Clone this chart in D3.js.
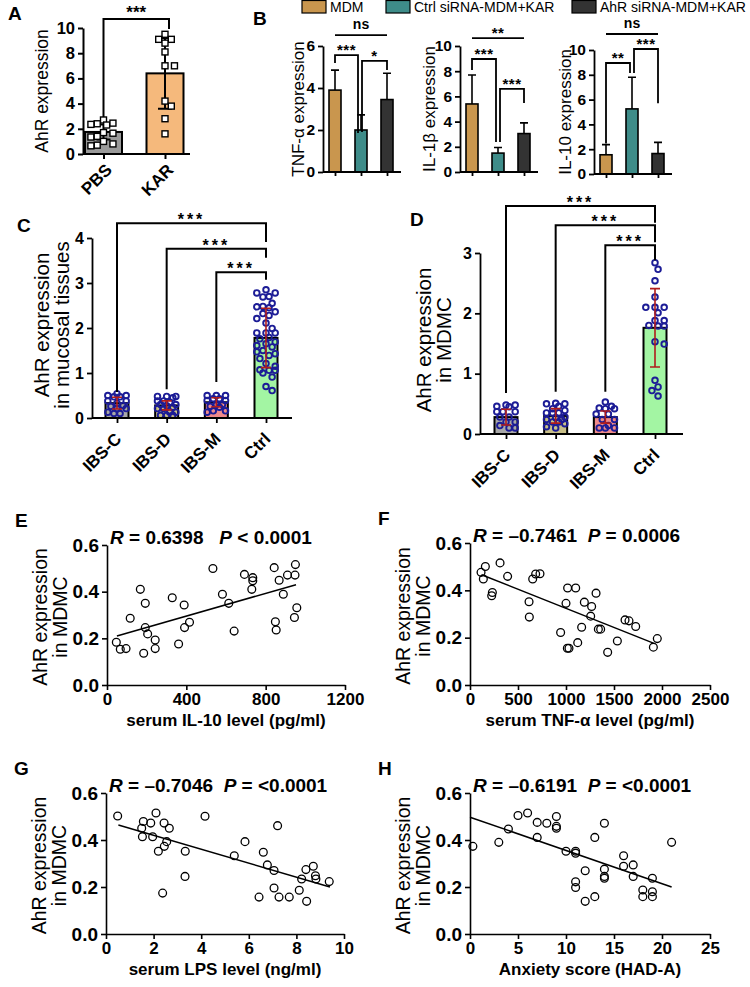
<!DOCTYPE html>
<html><head><meta charset="utf-8">
<script src="https://cdn.jsdelivr.net/npm/d3@7"></script>
<style>
body{margin:0;background:#fff;}
svg{display:block;font-family:"Liberation Sans",Arial,sans-serif;}
text{white-space:pre;}
</style></head><body>
<svg id="c" width="750" height="987"></svg>
<script>
// ================= DATA =================
// Panel A
const aGroups = ["PBS", "KAR"];
const aMeans = [1.75, 6.4];
const aSD = [0.6, 2.8];
const aPBS = [2.7, 2.4, 2.3, 2.35, 2.45, 1.7, 1.65, 1.35, 1.4, 1.0, 0.8, 0.7, 0.65];
const aKAR = [9.5, 9.1, 9.1, 8.8, 8.1, 7.0, 7.0, 4.2, 3.8, 2.8, 1.6];
const aTicks = [0, 2, 4, 6, 8, 10];

// Panel B
const bGroups = ["MDM", "Ctrl siRNA-MDM+KAR", "AhR siRNA-MDM+KAR"];
const tnfMean = [3.9, 2.0, 3.45];
const tnfErr = [0.95, 0.72, 1.25];
const il1bMean = [5.4, 1.5, 3.05];
const il1bErr = [2.3, 0.45, 0.85];
const il10Mean = [1.55, 5.25, 1.65];
const il10Err = [0.82, 2.55, 0.9];

// Panel C
const cdGroups = ["IBS-C", "IBS-D", "IBS-M", "Ctrl"];
const cMeans = [0.33, 0.28, 0.35, 1.78];
const cSD = [0.13, 0.1, 0.1, 0.66];
const cIBSC = [0.5, 0.54, 0.5, 0.38, 0.38, 0.28, 0.26, 0.21, 0.21, 0.1, 0.1, 0.13, 0.33, 0.47, 0.47];
const cIBSD = [0.48, 0.48, 0.48, 0.38, 0.38, 0.3, 0.3, 0.24, 0.21, 0.21, 0.13, 0.13, 0.06, 0.06, 0.06, 0.45, 0.35, 0.27];
const cIBSM = [0.5, 0.5, 0.5, 0.39, 0.39, 0.26, 0.24, 0.16, 0.13, 0.16, 0.3, 0.3, 0.43, 0.43];
const cCtrl = [2.78, 2.78, 2.85, 2.70, 2.69, 2.55, 2.48, 2.45, 2.47, 2.36, 2.32, 2.28, 2.21, 2.11, 1.99, 1.89, 1.89, 1.89, 1.79,
  1.76, 1.69, 1.65, 1.61, 1.58, 1.5, 1.47, 1.43, 1.39, 1.32, 1.21, 1.15, 1.06, 1.06, 1.07, 1.0, 0.91, 0.7, 0.61];
const cTicks = [0, 1, 2, 3, 4];

// Panel D
const dMeans = [0.28, 0.3, 0.28, 1.76];
const dSD = [0.13, 0.12, 0.1, 0.65];
const dIBSC = [0.48, 0.46, 0.45, 0.48, 0.37, 0.37, 0.37, 0.28, 0.28, 0.2, 0.2, 0.14, 0.1, 0.1];
const dIBSD = [0.5, 0.51, 0.5, 0.46, 0.39, 0.42, 0.35, 0.35, 0.35, 0.28, 0.27, 0.2, 0.2, 0.17, 0.12, 0.1, 0.24, 0.24];
const dIBSM = [0.53, 0.42, 0.42, 0.43, 0.46, 0.33, 0.33, 0.24, 0.24, 0.14, 0.1, 0.1, 0.1];
const dCtrl = [2.84, 2.73, 2.54, 2.27, 2.1, 2.1, 2.1, 2.01, 1.88, 1.88, 1.79, 1.79, 1.8, 1.53, 1.49, 0.89, 0.78, 0.63, 0.72];
const dTicks = [0, 1, 2, 3];

// Panels E-H (scatter)
const eX = [47, 67, 96, 117, 168, 185, 193, 193, 205, 243, 243, 329, 361, 389, 391, 416, 534, 582, 614, 641, 693, 730, 735, 735, 843, 849, 853, 868, 889, 910, 945, 948, 950, 957];
const eY = [0.183, 0.153, 0.156, 0.286, 0.41, 0.136, 0.35, 0.246, 0.219, 0.193, 0.156, 0.374, 0.176, 0.343, 0.246, 0.269, 0.499, 0.389, 0.35, 0.231, 0.474, 0.41, 0.46, 0.447, 0.503, 0.271, 0.236, 0.449, 0.389, 0.471, 0.289, 0.471, 0.516, 0.331];
const eLine = [[50, 0.21], [953, 0.43]];
const eXTicks = [0, 400, 800, 1200];

const fX = [115, 139, 160, 313, 226, 233, 392, 615, 618, 653, 684, 729, 944, 1000, 1014, 1031, 1017, 1101, 1122, 1163, 1191, 1267, 1257, 1313, 1337, 1361, 1434, 1535, 1615, 1656, 1726, 1910, 1951];
const fY = [0.476, 0.448, 0.501, 0.516, 0.377, 0.391, 0.459, 0.352, 0.287, 0.448, 0.469, 0.47, 0.222, 0.345, 0.155, 0.155, 0.41, 0.41, 0.179, 0.244, 0.35, 0.332, 0.291, 0.388, 0.236, 0.236, 0.138, 0.186, 0.275, 0.271, 0.247, 0.16, 0.196];
const fLine = [[120, 0.466], [1910, 0.177]];
const fXTicks = [0, 500, 1000, 1500, 2000, 2500];

const gX = [0.49, 1.5, 1.53, 1.57, 1.88, 1.96, 2.1, 2.2, 2.38, 2.44, 2.45, 2.55, 2.66, 3.33, 3.32, 4.16, 5.39, 5.84, 6.43, 6.61, 6.78, 7.06, 7.06, 7.21, 7.27, 7.7, 8.12, 8.22, 8.4, 8.43, 8.71, 8.8, 8.82, 9.38];
const gY = [0.502, 0.45, 0.414, 0.479, 0.472, 0.414, 0.515, 0.352, 0.174, 0.472, 0.373, 0.393, 0.45, 0.352, 0.245, 0.501, 0.333, 0.393, 0.157, 0.348, 0.294, 0.196, 0.27, 0.461, 0.157, 0.157, 0.186, 0.234, 0.274, 0.139, 0.288, 0.248, 0.234, 0.223];
const gLine = [[0.52, 0.464], [9.41, 0.2]];
const gXTicks = [0, 2, 4, 6, 8, 10];

const hX = [0.3, 3, 4, 5, 6, 7, 7, 8, 9, 9, 9, 10, 11, 11, 11, 11, 12, 12, 13, 13, 14, 14, 14, 14, 16, 16, 17, 17, 18, 18, 19, 19, 19, 21];
const hY = [0.373, 0.39, 0.447, 0.504, 0.515, 0.475, 0.411, 0.471, 0.5, 0.458, 0.45, 0.352, 0.352, 0.344, 0.222, 0.198, 0.269, 0.139, 0.159, 0.411, 0.471, 0.276, 0.245, 0.237, 0.333, 0.288, 0.294, 0.245, 0.187, 0.159, 0.18, 0.159, 0.237, 0.39];
const hLine = [[0, 0.497], [21, 0.2]];
const hXTicks = [0, 5, 10, 15, 20, 25];
const scatterYTicks = [0, 0.2, 0.4, 0.6];

// ================= DRAWING =================
const svg = d3.select("#c");
const FONT_BOLD = 700;
const intFmt = d3.format("d");

function letter(x, y, t) {
  svg.append("text").attr("x", x).attr("y", y).attr("font-size", 19).attr("font-weight", FONT_BOLD).text(t);
}
function rotLabel(cx, cy, lines, fs, gap) {
  const n = lines.length;
  lines.forEach((l, i) => {
    const x = cx + (i - (n - 1) / 2) * gap;
    svg.append("text").attr("transform", `translate(${x},${cy}) rotate(-90)`)
      .attr("text-anchor", "middle").attr("dy", "0.35em").attr("font-size", fs).text(l);
  });
}
function styleAxis(g, fs, sw) {
  g.selectAll("path,line").attr("stroke", "#000").attr("stroke-width", sw);
  g.selectAll("text").attr("font-size", fs).attr("font-weight", FONT_BOLD).attr("fill", "#000")
    .attr("font-family", '"Liberation Sans",Arial,sans-serif');
}
function slantLabels(xa, dx, dy) {
  xa.selectAll("text").attr("x", 0).attr("y", 0).attr("dy", 0).attr("text-anchor", "end")
    .attr("transform", `translate(${dx},${dy}) rotate(-45)`);
}
function swarm(values, yScale, r, maxOff) {
  const idx = values.map((v, i) => i).sort((a, b) => values[b] - values[a]);
  const placed = [], off = new Array(values.length).fill(0);
  const step = r * 0.9;
  idx.forEach(i => {
    const py = yScale(values[i]);
    const cands = [0];
    for (let k = 1; k * step <= maxOff; k++) cands.push(k * step, -k * step);
    let best = 0, bestMin = -Infinity;
    for (const c of cands) {
      let minD = Infinity;
      for (const p of placed) { const d = Math.hypot(p[0] - c, p[1] - py); if (d < minD) minD = d; }
      if (minD >= 2 * r + 0.3) { best = c; bestMin = Infinity; break; }
      if (minD > bestMin) { bestMin = minD; best = c; }
    }
    off[i] = best; placed.push([best, py]);
  });
  return off;
}
function bracket(x1, y1, x2, y2, ytop, sw) {
  svg.append("path").attr("d", `M${x1},${y1}V${ytop}H${x2}V${y2}`)
    .attr("fill", "none").attr("stroke", "#000").attr("stroke-width", sw);
}
function stars(x, ycenter, t, fs, ls) {
  svg.append("text").attr("x", x).attr("y", ycenter + fs * 0.55).attr("text-anchor", "middle")
    .attr("font-size", fs).attr("font-weight", FONT_BOLD).attr("letter-spacing", ls || 0).text(t);
}

// ---------- Panel A ----------
(function () {
  const y = d3.scaleLinear().domain([0, 10]).range([154, 28]);
  const x = d3.scalePoint().domain(aGroups).range([103.5, 165]);
  const bw = 37, axX0 = 83, axX1 = 190;
  const colors = ["#9a9a9a", "#f5b97c"];
  aGroups.forEach((g, i) => {
    svg.append("rect").attr("x", x(g) - bw / 2).attr("y", y(aMeans[i])).attr("width", bw)
      .attr("height", y(0) - y(aMeans[i])).attr("fill", colors[i]).attr("stroke", "#000").attr("stroke-width", 2);
  });
  aGroups.forEach((g, i) => {
    const cx = x(g), hi = y(aMeans[i] + aSD[i]), lo = y(aMeans[i] - aSD[i]);
    svg.append("path").attr("d", `M${cx},${hi}V${lo}M${cx - 7},${hi}H${cx + 7}M${cx - 7},${lo}H${cx + 7}`)
      .attr("stroke", "#000").attr("stroke-width", 2).attr("fill", "none");
  });
  const r = 3;
  [aPBS, aKAR].forEach((vals, i) => {
    const off = swarm(vals, y, r + 0.5, 13);
    svg.append("g").selectAll("rect").data(vals).join("rect")
      .attr("x", (d, j) => x(aGroups[i]) + off[j] - r).attr("y", d => y(d) - r)
      .attr("width", 2 * r).attr("height", 2 * r).attr("fill", "#fff").attr("stroke", "#000").attr("stroke-width", 1.4);
  });
  const ya = svg.append("g").attr("transform", `translate(${axX0},0)`)
    .call(d3.axisLeft(y).tickValues(aTicks).tickFormat(intFmt).tickSize(5).tickSizeOuter(0));
  styleAxis(ya, 16.5, 2);
  const xa = svg.append("g").attr("transform", `translate(0,${y(0)})`)
    .call(d3.axisBottom(x).tickSize(5).tickSizeOuter(0));
  xa.select(".domain").attr("d", `M${axX0},0H${axX1}`);
  styleAxis(xa, 17, 2);
  slantLabels(xa, 9, 17);
  rotLabel(42, 91, ["AhR expression"], 17.5, 0);
  bracket(x("PBS"), 117, x("KAR") + 4, 29, 19, 2);
  stars((x("PBS") + x("KAR")) / 2 + 2, 9, "***", 17, 0);
  letter(8, 20, "A");
})();

// ---------- Panel B ----------
const bColors = ["#c9964e", "#3e8c89", "#333333"];
(function () {
  const lx = [302, 386, 572];
  bGroups.forEach((g, i) => {
    svg.append("rect").attr("x", lx[i]).attr("y", 0.5).attr("width", 24).attr("height", 12.5)
      .attr("fill", bColors[i]).attr("stroke", "#000").attr("stroke-width", 1.2);
    svg.append("text").attr("x", lx[i] + 28).attr("y", 12).attr("font-size", 14).text(g);
  });
  letter(253, 25, "B");

  function sub(cfg) {
    const y = d3.scaleLinear().domain([0, cfg.max]).range([cfg.y0, cfg.y1]);
    const x = d3.scalePoint().domain(bGroups).range([cfg.ax + 12, cfg.ax + 64]);
    const bw = 12;
    bGroups.forEach((g, i) => {
      const cx = x(g), top = y(cfg.mean[i]), eh = y(cfg.mean[i] + cfg.err[i]);
      svg.append("path").attr("d", `M${cx},${top}V${eh}M${cx - 4},${eh}H${cx + 4}`)
        .attr("stroke", "#000").attr("stroke-width", 1.6).attr("fill", "none");
      svg.append("rect").attr("x", cx - bw / 2).attr("y", top).attr("width", bw).attr("height", y(0) - top)
        .attr("fill", bColors[i]).attr("stroke", "#000").attr("stroke-width", 1.6);
    });
    const ya = svg.append("g").attr("transform", `translate(${cfg.ax},0)`)
      .call(d3.axisLeft(y).tickValues(cfg.ticks).tickFormat(intFmt).tickSize(5).tickSizeOuter(0));
    styleAxis(ya, 15.5, 1.8);
    const xa = svg.append("g").attr("transform", `translate(0,${y(0)})`)
      .call(d3.axisBottom(x).tickSize(4).tickSizeOuter(0).tickFormat(""));
    xa.select(".domain").attr("d", `M${cfg.ax},0H${cfg.ax + 78}`);
    styleAxis(xa, 10, 1.8);
    rotLabel(cfg.lx, (cfg.y0 + cfg.y1) / 2, [cfg.label], 17, 0);
    cfg.sig.forEach(s => {
      const x1 = x(bGroups[s.from]) + (s.dx1 || 0), x2 = x(bGroups[s.to]) + (s.dx2 || 0);
      if (s.line) {
        svg.append("line").attr("x1", x1).attr("x2", x2).attr("y1", y(s.level)).attr("y2", y(s.level))
          .attr("stroke", "#000").attr("stroke-width", 1.8);
      } else {
        bracket(x1, y(s.e1), x2, y(s.e2), y(s.level), 1.8);
      }
      if (s.label === "ns") {
        svg.append("text").attr("x", (x1 + x2) / 2).attr("y", y(s.level) - 6).attr("text-anchor", "middle")
          .attr("font-size", 14).attr("font-weight", FONT_BOLD).text("ns");
      } else {
        stars((x1 + x2) / 2, y(s.level) - 8, s.label, 15, 0.5);
      }
    });
  }
  sub({ ax: 323, lx: 298, y0: 172, y1: 46, max: 6, ticks: [0, 2, 4, 6], mean: tnfMean, err: tnfErr, label: "TNF-α expression",
    sig: [{ from: 0, to: 2, level: 6.52, line: true, label: "ns" },
      { from: 0, to: 1, dx2: -3, level: 5.57, e1: 5.19, e2: 1.86, label: "***" },
      { from: 1, to: 2, dx1: 1, level: 5.29, e1: 1.9, e2: 4.86, label: "*" }] });
  sub({ ax: 460, lx: 429, y0: 172, y1: 46, max: 10, ticks: [0, 2, 4, 6, 8, 10], mean: il1bMean, err: il1bErr, label: "IL-1β expression",
    sig: [{ from: 0, to: 2, level: 10.63, line: true, label: "**" },
      { from: 0, to: 1, dx2: -2, level: 8.97, e1: 8.1, e2: 2.38, label: "***" },
      { from: 1, to: 2, dx1: 2, level: 6.59, e1: 2.38, e2: 5.48, label: "***" }] });
  sub({ ax: 594, lx: 565, y0: 174, y1: 50, max: 10, ticks: [0, 2, 4, 6, 8, 10], mean: il10Mean, err: il10Err, label: "IL-10 expression",
    sig: [{ from: 0, to: 2, level: 11.29, line: true, label: "ns" },
      { from: 0, to: 1, dx2: -2, level: 8.95, e1: 2.45, e2: 8.15, label: "**" },
      { from: 1, to: 2, dx1: 2, level: 10.08, e1: 8.15, e2: 5.7, label: "***" }] });
})();

// ---------- Panels C & D ----------
const cdColors = ["#a8a8a8", "#c8bf88", "#f08a8a", "#a3f5a3"];
function cdPanel(cfg) {
  const y = d3.scaleLinear().domain([0, cfg.max]).range([cfg.y0, cfg.y1]);
  const x = d3.scalePoint().domain(cdGroups).range([cfg.c0, cfg.c1]);
  const bw = 23;
  cdGroups.forEach((g, i) => {
    svg.append("rect").attr("x", x(g) - bw / 2).attr("y", y(cfg.means[i])).attr("width", bw)
      .attr("height", y(0) - y(cfg.means[i])).attr("fill", cdColors[i]).attr("stroke", "#000").attr("stroke-width", 2);
  });
  const r = 2.8;
  cfg.dots.forEach((vals, i) => {
    const off = swarm(vals, y, r + 0.6, 12);
    svg.append("g").selectAll("circle").data(vals).join("circle")
      .attr("cx", (d, j) => x(cdGroups[i]) + off[j]).attr("cy", d => y(d)).attr("r", r)
      .attr("fill", "none").attr("stroke", "#1c1c96").attr("stroke-width", 1.9);
  });
  cdGroups.forEach((g, i) => {
    const cx = x(g), hi = y(cfg.means[i] + cfg.sd[i]), lo = y(Math.max(0, cfg.means[i] - cfg.sd[i]));
    svg.append("path").attr("d", `M${cx},${hi}V${lo}M${cx - 5},${hi}H${cx + 5}M${cx - 5},${lo}H${cx + 5}`)
      .attr("stroke", "#b01c1c").attr("stroke-width", 1.6).attr("fill", "none");
  });
  const ya = svg.append("g").attr("transform", `translate(${cfg.ax0},0)`)
    .call(d3.axisLeft(y).tickValues(cfg.ticks).tickFormat(intFmt).tickSize(5).tickSizeOuter(0));
  styleAxis(ya, 16, 1.8);
  const xa = svg.append("g").attr("transform", `translate(0,${y(0)})`)
    .call(d3.axisBottom(x).tickSize(5).tickSizeOuter(0));
  xa.select(".domain").attr("d", `M${cfg.ax0},0H${cfg.ax1}`);
  styleAxis(xa, 17, 1.8);
  slantLabels(xa, 5, 22);
  rotLabel(cfg.lx, cfg.ly, cfg.label, 20.5, 20);
  cfg.sig.forEach(s => {
    const x1 = x(cdGroups[s.from]), x2 = x(cdGroups[3]);
    bracket(x1, y(s.e1), x2, y(s.e2), y(s.level), 2);
    stars((x1 + x2) / 2, y(s.level) - 7, "***", 16, 3);
  });
  letter(cfg.letX, cfg.letY, cfg.letter);
}
cdPanel({ y0: 418, y1: 238, max: 4, ticks: cTicks, c0: 117, c1: 266, ax0: 92, ax1: 292, means: cMeans, sd: cSD,
  dots: [cIBSC, cIBSD, cIBSM, cCtrl], label: ["AhR expression", "in mucosal tissues"], lx: 52, ly: 325,
  sig: [{ from: 0, level: 4.33, e1: 0.58, e2: 3.91 }, { from: 1, level: 3.76, e1: 0.64, e2: 3.56 }, { from: 2, level: 3.24, e1: 0.8, e2: 3.07 }],
  letter: "C", letX: 17, letY: 232 });
cdPanel({ y0: 434, y1: 253, max: 3, ticks: dTicks, c0: 506, c1: 655, ax0: 480, ax1: 683, means: dMeans, sd: dSD,
  dots: [dIBSC, dIBSD, dIBSM, dCtrl], label: ["AhR expression", "in MDMC"], lx: 434, ly: 340,
  sig: [{ from: 0, level: 3.78, e1: 0.68, e2: 3.5 }, { from: 1, level: 3.46, e1: 0.7, e2: 3.18 }, { from: 2, level: 3.13, e1: 0.7, e2: 2.88 }],
  letter: "D", letX: 410, letY: 226 });

// ---------- Scatter panels E-H ----------
function scatter(cfg) {
  const x = d3.scaleLinear().domain([0, cfg.xmax]).range([cfg.ax, cfg.ax1]);
  const y = d3.scaleLinear().domain([0, 0.6]).range([cfg.y0, cfg.y1]);
  svg.append("path").attr("d", d3.line().x(d => x(d[0])).y(d => y(d[1]))(cfg.line))
    .attr("stroke", "#000").attr("stroke-width", 1.5).attr("fill", "none");
  svg.append("g").selectAll("circle").data(cfg.xs).join("circle")
    .attr("cx", d => x(d)).attr("cy", (d, i) => y(cfg.ys[i])).attr("r", 3.9)
    .attr("fill", "none").attr("stroke", "#000").attr("stroke-width", 1.3);
  const ya = svg.append("g").attr("transform", `translate(${cfg.ax},0)`)
    .call(d3.axisLeft(y).tickValues(scatterYTicks).tickFormat(d3.format(".1f")).tickSize(5).tickSizeOuter(0));
  styleAxis(ya, 19, 1.6);
  const xa = svg.append("g").attr("transform", `translate(0,${cfg.y0})`)
    .call(d3.axisBottom(x).tickValues(cfg.xTicks).tickFormat(intFmt).tickSize(5).tickSizeOuter(0));
  styleAxis(xa, 17, 1.6);
  svg.append("text").attr("x", (cfg.ax + cfg.ax1) / 2).attr("y", cfg.y0 + 41).attr("text-anchor", "middle")
    .attr("font-size", 17).attr("font-weight", FONT_BOLD).text(cfg.xlabel);
  rotLabel(cfg.ax - 57, (cfg.y0 + cfg.y1) / 2 + 2, ["AhR expression", "in MDMC"], 19.5, 20);
  const t = svg.append("text").attr("x", cfg.ax + 3).attr("y", cfg.y1 - 1).attr("font-size", 19).attr("font-weight", FONT_BOLD);
  cfg.title.forEach(p => {
    const s = t.append("tspan").text(p.t);
    if (p.i) s.attr("font-style", "italic");
  });
  letter(cfg.ax - 92, cfg.y1 - 18, cfg.letter);
}
scatter({ ax: 107, ax1: 345, y0: 685, y1: 545, xmax: 1200, xTicks: eXTicks, xs: eX, ys: eY, line: eLine,
  xlabel: "serum IL-10 level (pg/ml)", letter: "E",
  title: [{ t: "R", i: true }, { t: " = 0.6398   " }, { t: "P", i: true }, { t: " < 0.0001" }] });
scatter({ ax: 470, ax1: 710, y0: 685, y1: 543, xmax: 2500, xTicks: fXTicks, xs: fX, ys: fY, line: fLine,
  xlabel: "serum TNF-α level (pg/ml)", letter: "F",
  title: [{ t: "R", i: true }, { t: " = –0.7461  " }, { t: "P", i: true }, { t: " = 0.0006" }] });
scatter({ ax: 106, ax1: 344, y0: 934, y1: 793, xmax: 10, xTicks: gXTicks, xs: gX, ys: gY, line: gLine,
  xlabel: "serum LPS level (ng/ml)", letter: "G",
  title: [{ t: "R", i: true }, { t: " = –0.7046  " }, { t: "P", i: true }, { t: " = <0.0001" }] });
scatter({ ax: 470, ax1: 710, y0: 934, y1: 793, xmax: 25, xTicks: hXTicks, xs: hX, ys: hY, line: hLine,
  xlabel: "Anxiety score (HAD-A)", letter: "H",
  title: [{ t: "R", i: true }, { t: " = –0.6191  " }, { t: "P", i: true }, { t: " = <0.0001" }] });
</script>
</body></html>
